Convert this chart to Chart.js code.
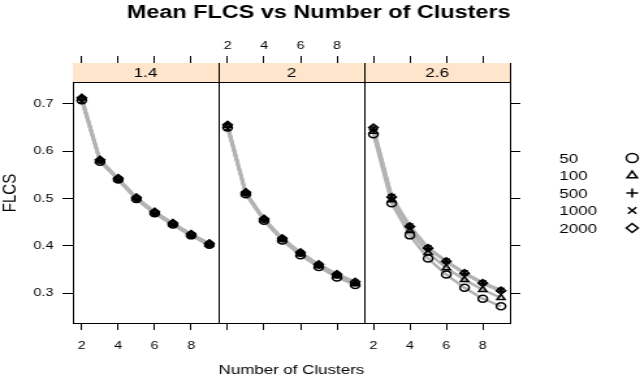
<!DOCTYPE html>
<html>
<head>
<meta charset="utf-8">
<script src="https://cdn.jsdelivr.net/npm/chart.js@4"></script>
<style>
  html, body { margin: 0; padding: 0; background: #fff; }
  #wrap { width: 640px; height: 378px; overflow: hidden; }
  /* the reference is stretched sideways, so draw narrow and widen */
  #flcs { transform: scaleX(1.3008); transform-origin: 0 0; }
</style>
</head>
<body>
<div id="wrap"><canvas id="flcs" width="492" height="378"></canvas></div>
<script>
// categories
const clusters = [2, 3, 4, 5, 6, 7, 8, 9];
const panels = ['1.4', '2', '2.6'];
const sizes = ['50', '100', '500', '1000', '2000'];
const symbols = ['circle', 'triangle', 'cross', 'crossRot', 'rectRot'];

// FLCS per sample size (rows follow sizes), one block per panel
const flcs14 = [
  [0.708, 0.578, 0.540, 0.499, 0.469, 0.445, 0.422, 0.402],
  [0.712, 0.581, 0.542, 0.501, 0.471, 0.447, 0.424, 0.404],
  [0.710, 0.580, 0.541, 0.500, 0.470, 0.446, 0.423, 0.403],
  [0.706, 0.579, 0.539, 0.498, 0.468, 0.444, 0.421, 0.401],
  [0.713, 0.582, 0.543, 0.502, 0.472, 0.448, 0.425, 0.405]
];
const flcs20 = [
  [0.650, 0.509, 0.453, 0.411, 0.380, 0.355, 0.333, 0.317],
  [0.654, 0.512, 0.456, 0.413, 0.382, 0.357, 0.336, 0.319],
  [0.652, 0.511, 0.455, 0.415, 0.384, 0.359, 0.338, 0.322],
  [0.648, 0.510, 0.454, 0.414, 0.385, 0.360, 0.339, 0.323],
  [0.656, 0.513, 0.457, 0.416, 0.386, 0.361, 0.340, 0.324]
];
const flcs26 = [
  [0.636, 0.490, 0.422, 0.373, 0.339, 0.311, 0.288, 0.272],
  [0.642, 0.497, 0.432, 0.385, 0.353, 0.328, 0.307, 0.290],
  [0.646, 0.502, 0.440, 0.394, 0.366, 0.341, 0.320, 0.304],
  [0.648, 0.504, 0.442, 0.396, 0.368, 0.343, 0.322, 0.306],
  [0.650, 0.503, 0.441, 0.395, 0.367, 0.342, 0.321, 0.305]
];
const panelData = [flcs14, flcs20, flcs26];

// tick labels
const xTicks = [2, 4, 6, 8];
const yTicks = [0.3, 0.4, 0.5, 0.6, 0.7];

// each panel sits 8 units further along one shared x scale
const SHIFT = 8;
const X_MIN = 1.51, X_MAX = 1.51 + SHIFT * 3 - 0.02;
const Y_MIN = 0.2366, Y_MAX = 0.7867, STRIP_BOTTOM = 0.7465;

Chart.defaults.font.family = '"Liberation Sans", Arial, sans-serif';
Chart.defaults.color = '#000';

let datasets = [];
panelData.forEach((block, p) => {
  block.forEach((vals, s) => {
    let pts = clusters.map((c, i) => ({ x: c + SHIFT * p, y: vals[i] }));
    datasets.push({
      data: pts, showLine: true, borderColor: '#b3b3b3', borderWidth: 2.5,
      pointRadius: 0, order: 2
    });
    datasets.push({
      data: pts, showLine: false, pointStyle: symbols[s], pointRadius: 3.5,
      pointBorderWidth: 1.5, pointBorderColor: '#000',
      pointBackgroundColor: 'rgba(0,0,0,0)', order: 1
    });
  });
});

function panelOf(v) { return Math.floor((v - 1.5) / SHIFT); }
function allXTicks() {
  let t = [];
  panels.forEach((_, p) => xTicks.forEach(v => t.push({ value: v + SHIFT * p })));
  return t;
}

const latticePlugin = {
  id: 'lattice',
  beforeDatasetsDraw(chart) {
    const { ctx, chartArea, scales } = chart;
    const yStrip = Math.round(scales.y.getPixelForValue(STRIP_BOTTOM)) + 0.5;
    ctx.save();
    ctx.fillStyle = '#ffe5cc';
    ctx.fillRect(chartArea.left, chartArea.top, chartArea.right - chartArea.left, yStrip - chartArea.top);
    ctx.strokeStyle = '#000';
    ctx.lineWidth = 1;
    ctx.beginPath();
    ctx.moveTo(chartArea.left, yStrip);
    ctx.lineTo(chartArea.right, yStrip);
    for (let p = 1; p < panels.length; p++) {
      let x = Math.round(scales.x.getPixelForValue(1.5 + SHIFT * p)) + 0.5;
      ctx.moveTo(x, chartArea.top);
      ctx.lineTo(x, chartArea.bottom);
    }
    ctx.stroke();
    ctx.fillStyle = '#000';
    ctx.font = '13px "Liberation Sans", Arial, sans-serif';
    ctx.textAlign = 'center';
    ctx.textBaseline = 'middle';
    panels.forEach((name, p) => {
      let x0 = scales.x.getPixelForValue(1.5 + SHIFT * p);
      let x1 = scales.x.getPixelForValue(1.5 + SHIFT * (p + 1));
      ctx.fillText(name, (x0 + x1) / 2, (chartArea.top + yStrip) / 2 + 1);
    });
    ctx.restore();
  },
  afterDraw(chart) {
    const ctx = chart.ctx;
    ctx.save();
    ctx.fillStyle = '#000';
    ctx.font = 'bold 18px "Liberation Sans", Arial, sans-serif';
    ctx.textAlign = 'center';
    ctx.textBaseline = 'middle';
    ctx.fillText('Mean FLCS vs Number of Clusters', 245, 13);

    // key on the right
    ctx.font = '13px "Liberation Sans", Arial, sans-serif';
    ctx.textAlign = 'left';
    ctx.strokeStyle = '#000';
    ctx.lineWidth = 1.5;
    sizes.forEach((lab, i) => {
      let y = 159 + i * 17.5;
      ctx.fillText(lab, 430, y);
      ctx.fillStyle = 'rgba(0,0,0,0)';
      Chart.helpers.drawPoint(ctx, { pointStyle: symbols[i], radius: 4.5, borderWidth: 1.5, rotation: 0 }, 486, y - 1);
      ctx.fillStyle = '#000';
    });
    ctx.restore();
  }
};

const axisGrid = (len) => ({ display: true, drawOnChartArea: false, drawTicks: true, tickLength: len, color: '#000', lineWidth: 1 });

const flcsChart = new Chart(document.getElementById('flcs'), {
  type: 'scatter',
  data: { datasets: datasets },
  options: {
    responsive: false,
    animation: false,
    layout: { padding: 0 },
    plugins: { legend: { display: false }, tooltip: { enabled: false } },
    scales: {
      x: {
        type: 'linear', position: 'bottom', min: X_MIN, max: X_MAX,
        afterBuildTicks: s => { s.ticks = allXTicks(); },
        afterFit: s => { s.height = 55; },
        ticks: {
          autoSkip: false, maxRotation: 0, padding: 9, font: { size: 11 },
          callback: v => panelOf(v) === 1 ? '' : String(v - SHIFT * panelOf(v))
        },
        grid: axisGrid(7),
        border: { display: true, color: '#000', width: 1 },
        title: { display: true, text: 'Number of Clusters', font: { size: 13, lineHeight: 1.1 }, padding: 0 }
      },
      xTop: {
        type: 'linear', position: 'top', min: X_MIN, max: X_MAX,
        afterBuildTicks: s => { s.ticks = allXTicks(); },
        afterFit: s => { s.height = 63; },
        ticks: {
          autoSkip: false, maxRotation: 0, padding: 3, font: { size: 11 },
          callback: v => panelOf(v) === 1 ? String(v - SHIFT) : ''
        },
        grid: axisGrid(7),
        border: { display: true, color: '#000', width: 1 }
      },
      y: {
        type: 'linear', position: 'left', min: Y_MIN, max: Y_MAX,
        afterBuildTicks: s => { s.ticks = yTicks.map(v => ({ value: v })); },
        afterFit: s => { s.width = 56; },
        ticks: { padding: 7, font: { size: 11 }, callback: v => v.toFixed(1) },
        grid: axisGrid(8),
        border: { display: true, color: '#000', width: 1 },
        title: { display: true, text: 'FLCS', font: { size: 15, lineHeight: 1.1 }, padding: 0 }
      },
      yRight: {
        type: 'linear', position: 'right', min: Y_MIN, max: Y_MAX,
        afterBuildTicks: s => { s.ticks = yTicks.map(v => ({ value: v })); },
        afterFit: s => { s.width = 100; },
        ticks: { callback: () => '' },
        grid: axisGrid(8),
        border: { display: true, color: '#000', width: 1 }
      }
    }
  },
  plugins: [latticePlugin]
});
</script>
</body>
</html>
